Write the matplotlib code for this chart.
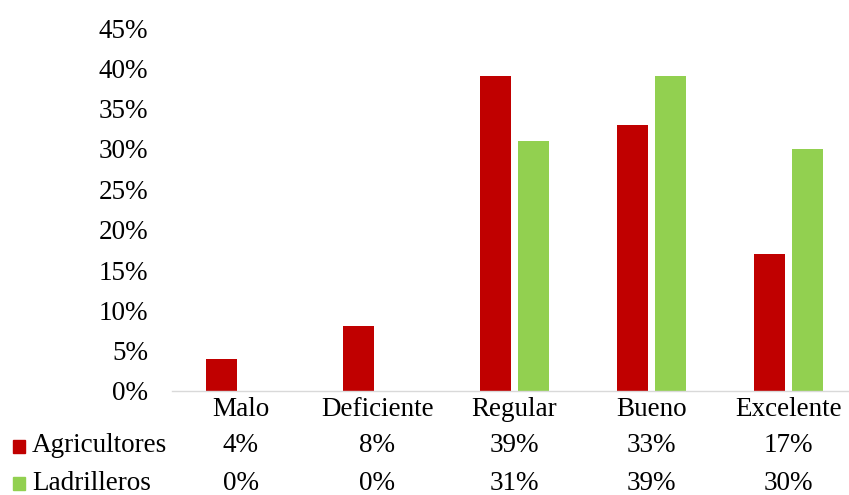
import numpy as np
import matplotlib.pyplot as plt
from matplotlib.transforms import blended_transform_factory
from matplotlib.patches import Rectangle

categories = ['Malo', 'Deficiente', 'Regular', 'Bueno', 'Excelente']
agricultores = [4, 8, 39, 33, 17]
ladrilleros = [0, 0, 31, 39, 30]
series_names = ['Agricultores', 'Ladrilleros']
colors = ['#C00000', '#92D050']
yticks = [0, 5, 10, 15, 20, 25, 30, 35, 40, 45]

plt.rcParams['font.family'] = ['Liberation Serif', 'DejaVu Serif']
FS = 19.5

W, H = 849, 495
fig = plt.figure(figsize=(W / 100, H / 100), dpi=100)
left, right = 172, 849
top, bottom = 28, 391
ax = fig.add_axes([left / W, 1 - bottom / H, (right - left) / W, (bottom - top) / H])

cat_w = 137.0
x = np.arange(len(categories))
bw = 31 / cat_w
off = 19 / cat_w
ax.bar(x - off, agricultores, bw, color=colors[0])
ax.bar(x + off, ladrilleros, bw, color=colors[1])

ax.set_xlim(-0.5, -0.5 + (right - left) / cat_w)
ax.set_ylim(0, 45)
ax.set_yticks(yticks)
ax.set_yticklabels([f'{t}%' for t in yticks], fontsize=FS)
ax.tick_params(axis='y', length=0, pad=17)
ax.set_xticks([])
for s in ax.spines.values():
    s.set_visible(False)

# data table below the chart
ax.axhline(0, color='#D9D9D9', lw=1, clip_on=False)
tr = blended_transform_factory(ax.transData, fig.transFigure)
rows_y = [1 - 409 / H, 1 - 446 / H, 1 - 483 / H]
for i, c in enumerate(categories):
    fig.text(x[i], rows_y[0], c, transform=tr, ha='center', va='center', fontsize=FS)
    fig.text(x[i], rows_y[1], f'{agricultores[i]}%', transform=tr, ha='center', va='center', fontsize=FS)
    fig.text(x[i], rows_y[2], f'{ladrilleros[i]}%', transform=tr, ha='center', va='center', fontsize=FS)

for j, name in enumerate(series_names):
    yc = rows_y[j + 1]
    fig.patches.append(Rectangle((13 / W, yc - 6.5 / H), 12 / W, 13 / H,
                                 transform=fig.transFigure, color=colors[j]))
    fig.text(32 / W, yc, name, ha='left', va='center', fontsize=FS)

fig.savefig('out.png', dpi=100)
